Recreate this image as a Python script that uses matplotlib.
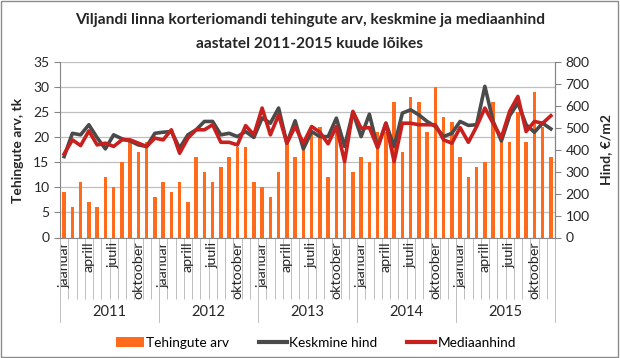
import matplotlib
matplotlib.use("Agg")
import matplotlib.pyplot as plt
import matplotlib.transforms as mtransforms
from matplotlib.patches import Rectangle, Patch
from matplotlib.lines import Line2D
import numpy as np

plt.rcParams['font.family'] = ['Lato', 'DejaVu Sans']

years = ["2011", "2012", "2013", "2014", "2015"]
months = ["jaanuar", "veebruar", "märts", "aprill", "mai", "juuni",
          "juuli", "august", "september", "oktoober", "november", "detsember"]

# Tehingute arv (tk)
deals = [9, 6, 11, 7, 6, 12, 10, 15, 19, 17, 19, 8,
         11, 9, 11, 7, 16, 13, 11, 14, 16, 18, 18, 11,
         10, 8, 13, 19, 16, 18, 21, 22, 12, 21, 17, 13,
         16, 15, 21, 21, 27, 17, 28, 27, 21, 30, 24, 23,
         16, 12, 14, 15, 27, 19, 19, 25, 19, 29, 22, 16]

# Keskmine hind (EUR/m2)
mean_price = [369, 475, 468, 514, 455, 404, 468, 450, 440, 422, 415, 475,
              480, 483, 407, 468, 491, 529, 529, 468, 475, 460, 483, 456,
              545, 521, 590, 430, 532, 404, 483, 460, 460, 544, 415, 571,
              460, 562, 410, 521, 415, 567, 582, 559, 529, 506, 460, 475,
              529, 511, 514, 689, 530, 440, 555, 613, 514, 480, 521, 495]

# Mediaanhind (EUR/m2)
median_price = [381, 445, 419, 486, 422, 430, 415, 445, 445, 430, 415, 453,
                445, 491, 384, 453, 491, 491, 514, 434, 434, 422, 510, 468,
                590, 468, 559, 430, 506, 430, 506, 480, 427, 506, 346, 575,
                498, 501, 410, 521, 346, 521, 521, 514, 514, 514, 445, 430,
                501, 434, 506, 590, 520, 455, 575, 643, 483, 529, 521, 555]

bar_color = '#FF6B1A'
mean_color = '#4A4A4A'
median_color = '#C8201E'
axis_gray = '#868686'
text_color = '#262626'

W, H = 620, 358
fig = plt.figure(figsize=(W / 100, H / 100), dpi=100)
ax = fig.add_axes([60 / W, 1 - 237.5 / H, 495 / W, 175.5 / H])

x = np.arange(len(deals))
ax.bar(x, deals, width=0.45, color=bar_color, zorder=2)
ax.set_xlim(-0.5, len(deals) - 0.5)
ax.set_ylim(0, 35)
ax.set_yticks(np.arange(0, 36, 5))
ax.yaxis.grid(True, color='#BFBFBF', linewidth=0.9)
ax.set_axisbelow(True)

# month separators as long ticks, labels every third month
ax.set_xticks(np.arange(-0.5, len(deals), 1))
ax.set_xticklabels([])
ax.tick_params(axis='x', which='major', length=44, width=0.7, color='#BFBFBF', direction='out')
lab_pos = [i for i in x if i % 3 == 0]
ax.set_xticks(lab_pos, minor=True)
ax.set_xticklabels([months[i % 12] for i in lab_pos], minor=True, rotation=90,
                   va='top', ha='center', fontsize=10.3, color=text_color)
ax.tick_params(axis='x', which='minor', length=0, pad=3)

ax.tick_params(axis='y', length=4, width=0.8, color=axis_gray, labelsize=10, labelcolor=text_color)
ax.spines['top'].set_visible(False)
for s in ['left', 'bottom', 'right']:
    ax.spines[s].set_color(axis_gray)
    ax.spines[s].set_linewidth(0.8)

# year separators and labels
trans = mtransforms.blended_transform_factory(ax.transData, ax.transAxes)
for k in range(len(years) + 1):
    xs = 12 * k - 0.5
    ax.plot([xs, xs], [0, -0.48], transform=trans, color='#BFBFBF', lw=0.7, clip_on=False)
for k, yr in enumerate(years):
    ax.text(12 * k + 5.5, -0.425, yr, transform=trans, ha='center', va='center',
            fontsize=10.5, color=text_color)

ax2 = ax.twinx()
ax2.plot(x, mean_price, color=mean_color, lw=2.6, zorder=3)
ax2.plot(x, median_price, color=median_color, lw=2.6, zorder=4)
ax2.set_ylim(0, 800)
ax2.set_yticks(np.arange(0, 801, 100))
ax2.tick_params(axis='y', length=4, width=0.8, color=axis_gray, labelsize=10, labelcolor=text_color)
for s in ['top', 'left', 'bottom']:
    ax2.spines[s].set_visible(False)
ax2.spines['right'].set_color(axis_gray)
ax2.spines['right'].set_linewidth(0.8)

fig.text(0.5, 1 - 20 / H, "Viljandi linna korteriomandi tehingute arv, keskmine ja mediaanhind",
         ha='center', va='center', fontsize=11.2, fontweight='bold', color=text_color)
fig.text(0.5, 1 - 44 / H, "aastatel 2011-2015 kuude lõikes",
         ha='center', va='center', fontsize=11.2, fontweight='bold', color=text_color)

fig.text(18 / W, 1 - 150 / H, "Tehingute arv, tk", rotation=90, ha='center', va='center',
         fontsize=10, fontweight='bold', color=text_color)
fig.text(606 / W, 1 - 150 / H, "Hind, €/m2", rotation=90, ha='center', va='center',
         fontsize=10, fontweight='bold', color=text_color)

handles = [Patch(facecolor=bar_color, edgecolor='none'),
           Line2D([], [], color=mean_color, lw=3),
           Line2D([], [], color=median_color, lw=3)]
fig.legend(handles, ["Tehingute arv", "Keskmine hind", "Mediaanhind"], loc='center',
           bbox_to_anchor=(0.51, 1 - 343 / H), ncol=3, frameon=False, fontsize=9.8,
           handlelength=2.0, handletextpad=0.2, columnspacing=2.2)

fig.patches.append(Rectangle((0.002, 0.003), 0.995, 0.993, transform=fig.transFigure,
                             fill=False, edgecolor='#8c8c8c', lw=1))

fig.savefig("out.png", dpi=100)
